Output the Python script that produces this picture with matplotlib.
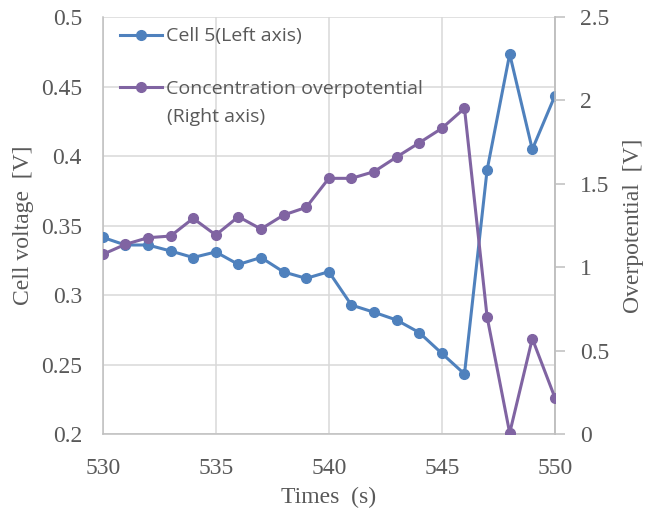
import matplotlib
matplotlib.use("Agg")
import matplotlib.pyplot as plt
from matplotlib.lines import Line2D

# data
times = list(range(530, 551))
cell5 = [0.3415, 0.336, 0.336, 0.3317, 0.327, 0.331, 0.322, 0.327, 0.3166, 0.312,
         0.3168, 0.2928, 0.2876, 0.282, 0.273, 0.258, 0.2432, 0.3899, 0.4734, 0.4048, 0.4434]
overpot = [1.077, 1.137, 1.177, 1.187, 1.293, 1.193, 1.303, 1.229, 1.313, 1.359,
           1.533, 1.533, 1.573, 1.661, 1.746, 1.833, 1.953, 0.703, 0.006, 0.572, 0.218]

left_ticks = [0.2, 0.25, 0.3, 0.35, 0.4, 0.45, 0.5]
left_labels = ['0.2', '0.25', '0.3', '0.35', '0.4', '0.45', '0.5']
right_ticks = [0, 0.5, 1, 1.5, 2, 2.5]
right_labels = ['0', '0.5', '1', '1.5', '2', '2.5']
x_ticks = [530, 535, 540, 545, 550]

blue = '#4F81BD'
purple = '#8064A2'
txt = '#595959'
grid = '#D9D9D9'
spine = '#BFBFBF'
serif = 'Liberation Serif'
sans = 'Open Sans'

fig = plt.figure(figsize=(6.46, 5.17), dpi=100)
ax = fig.add_axes([0.159, 0.1605, 0.7, 0.8065])
ax2 = ax.twinx()

ax.plot(times, cell5, color=blue, lw=2.2, marker='o', ms=7, zorder=3)
ax2.plot(times, overpot, color=purple, lw=2.2, marker='o', ms=7, zorder=3)

ax.set_xlim(530, 550)
ax.set_ylim(0.2, 0.5)
ax2.set_ylim(0, 2.5)
ax.set_xticks(x_ticks)
ax.set_xticklabels([str(t) for t in x_ticks])
ax.set_yticks(left_ticks)
ax.set_yticklabels(left_labels)
ax2.set_yticks(right_ticks)
ax2.set_yticklabels(right_labels)

ax.grid(True, color=grid, lw=1.1)
ax.set_axisbelow(True)
for a in (ax, ax2):
    for s in a.spines.values():
        s.set_color(spine)
        s.set_linewidth(1.1)
    a.spines['top'].set_visible(False)
ax2.spines['left'].set_visible(False)
ax2.spines['bottom'].set_visible(False)

ax.tick_params(axis='y', length=0, pad=15, labelcolor=txt, labelsize=17)
ax.tick_params(axis='x', length=0, pad=17, labelcolor=txt, labelsize=17)
ax2.tick_params(axis='y', length=7, width=1.1, color=spine, pad=11, labelcolor=txt, labelsize=17)
for lab in ax.get_xticklabels() + ax.get_yticklabels() + ax2.get_yticklabels():
    lab.set_family(serif)

ax.set_xlabel('Times  (s)', family=serif, fontsize=17, color=txt, labelpad=6)
ax.set_ylabel('Cell voltage  [V]', family=serif, fontsize=17, color=txt, labelpad=5)
ax2.set_ylabel('Overpotential  [V]', family=serif, fontsize=17, color=txt, labelpad=10)

handles = [Line2D([], [], color=blue, lw=2.2, marker='o', ms=7),
           Line2D([], [], color=purple, lw=2.2, marker='o', ms=7)]
leg = ax2.legend(handles, ['Cell 5(Left axis)', 'Concentration overpotential'],
                 loc='upper left', bbox_to_anchor=(0.0, 1.017), frameon=False,
                 prop={'family': sans, 'size': 14}, labelcolor=txt,
                 handlelength=2.15, handletextpad=0.2, labelspacing=1.75)
ax2.text(0.143, 0.76, '(Right axis)', transform=ax2.transAxes, family=sans,
         fontsize=14, color=txt, va='center', ha='left')

fig.savefig('out.png', dpi=100)
